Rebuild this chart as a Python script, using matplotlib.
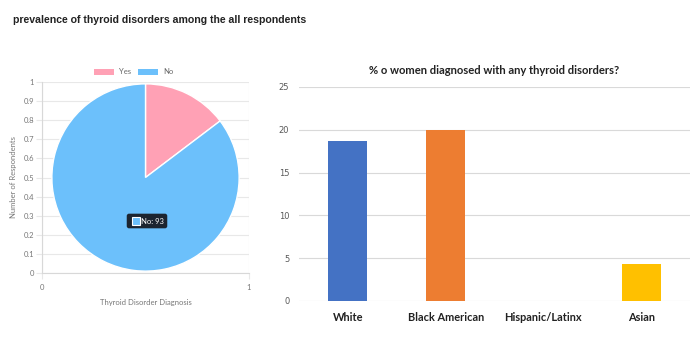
import matplotlib
matplotlib.use("Agg")
from matplotlib import pyplot as plt
from matplotlib.patches import Rectangle
import numpy as np

# pie data
pie_labels = ["Yes", "No"]
pie_counts = [16, 93]
pie_colors = ["#FFA1B5", "#6CC0FB"]

# bar data
groups = ["White", "Black American", "Hispanic/Latinx", "Asian"]
pct = [18.7, 20.0, 0.0, 4.3]
bar_colors = ["#4472C4", "#ED7D31", "#A5A5A5", "#FFC000"]
bar_ticks = [0, 5, 10, 15, 20, 25]

fig = plt.figure(figsize=(6.94, 3.54), dpi=100)
W, H = 694., 354.

fig.text(13/W, 1 - 20/H, "prevalence of thyroid disorders among the all respondents",
         fontsize=7.6, fontweight="bold", family="Liberation Sans", color="#222222", va="center")

# LEFT: pie inside a chart.js-like grid
box = [42/W, 1-273/H, (249-42)/W, (273-82)/H]
ax = fig.add_axes(box)
ax.set_xlim(0, 1)
ax.set_ylim(0, 1)
ax.set_yticks(np.linspace(0, 1, 11))
ax.set_yticklabels(["0", "0.1", "0.2", "0.3", "0.4", "0.5", "0.6", "0.7", "0.8", "0.9", "1"])
ax.set_xticks([0, 1])
ax.set_xticklabels(["0", "1"])
ax.grid(color="#e8e8e8", linewidth=0.8)
ax.tick_params(labelsize=5.5, labelcolor="#777777", color="#e8e8e8", length=4, width=0.8, pad=1.5)
ax.tick_params(axis="x", pad=4)
for s in ["top", "right"]:
    ax.spines[s].set_visible(False)
for s in ["left", "bottom"]:
    ax.spines[s].set_color("#d8d8d8")
ax.set_ylabel("Number of Respondents", fontsize=5.5, color="#777777", family="Lato", labelpad=5)
ax.set_xlabel("Thyroid Disorder Diagnosis", fontsize=5.5, color="#777777", family="Lato", labelpad=6)
for t in ax.get_xticklabels() + ax.get_yticklabels():
    t.set_family("Lato")

pax = fig.add_axes(box)
pax.pie(pie_counts, colors=pie_colors, startangle=90, counterclock=False, radius=1.0,
        wedgeprops=dict(edgecolor="white", linewidth=1.0))
pax.set_xlim(-1.02, 1.02)
pax.set_ylim(-1.02, 1.02)
pax.set_aspect("equal", adjustable="datalim")
pax.axis("off")

# legend
leg_y = 1 - 72/H
lx = [94/W, 138/W]
for i, lab in enumerate(pie_labels):
    fig.patches.append(Rectangle((lx[i], leg_y - 3/H), 20/W, 6/H, transform=fig.transFigure,
                                 facecolor=pie_colors[i], edgecolor="none"))
    fig.text(lx[i] + 25/W, leg_y, lab, fontsize=5.5, color="#666666", family="Lato", va="center")

# tooltip
ty = 1 - 221/H
fig.text(147/W, ty, "     No: 93", fontsize=5.5, color="white", family="Lato", va="center", ha="center",
         bbox=dict(boxstyle="round,pad=0.5,rounding_size=0.3", facecolor="#1c2530", edgecolor="none"))
fig.patches.append(Rectangle((132/W, ty - 4/H), 8/W, 8/H, transform=fig.transFigure,
                             facecolor=pie_colors[1], edgecolor="white", linewidth=0.8, zorder=5))

# RIGHT: bar chart
bx = fig.add_axes([299/W, 1-301/H, (690-299)/W, (301-87)/H])
x = np.arange(len(groups))
bx.bar(x, pct, width=0.4, color=bar_colors, zorder=3)
bx.set_xlim(-0.5, len(groups) - 0.5)
bx.set_ylim(0, 25)
bx.set_yticks(bar_ticks)
bx.set_yticklabels([str(v) for v in bar_ticks])
bx.set_xticks(x)
bx.set_xticklabels(groups)
bx.grid(axis="y", color="#d9d9d9", linewidth=0.8, zorder=0)
for s in ["top", "right", "left", "bottom"]:
    bx.spines[s].set_visible(False)
bx.tick_params(axis="y", length=0, labelsize=6, labelcolor="#595959", pad=7)
bx.tick_params(axis="x", length=0, pad=8)
for t in bx.get_xticklabels():
    t.set_fontsize(7.9)
    t.set_fontweight("bold")
    t.set_family("Lato")
    t.set_color("#222222")
bx.set_title("% o women diagnosed with any thyroid disorders?", fontsize=8.1, fontweight="bold",
             family="Lato", color="#222222", pad=9)

fig.savefig("out.png", dpi=100)
